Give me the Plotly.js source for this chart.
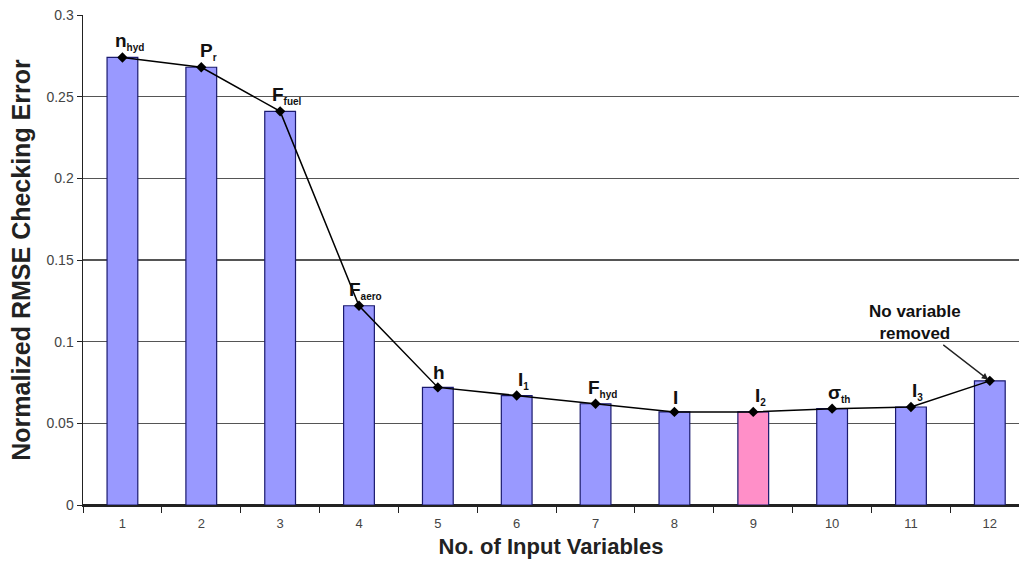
<!DOCTYPE html>
<html><head><meta charset="utf-8">
<script src="https://cdn.plot.ly/plotly-3.0.1.min.js"></script>
<style>html,body{margin:0;padding:0;background:#fff}</style>
</head><body><div id="chart" style="width:1019px;height:569px"></div>
<script>
const categories = ["1","2","3","4","5","6","7","8","9","10","11","12"];
const rmseValues = [0.274,0.268,0.241,0.122,0.072,0.067,0.062,0.057,0.057,0.059,0.060,0.076];
const labelMain = ["n","P","F","F","h","I","F","I","I","σ","I",""];
const labelSub = ["hyd","r","fuel","aero","","1","hyd","","2","th","3",""];
const highlightCategory = "9";
const noteText = "No variable<br>removed";

const FONT = "Arial, Liberation Sans, sans-serif";
const barColors = categories.map(c => c === highlightCategory ? "#ff8fc8" : "#9999ff");

const bars = {
  type: "bar", x: categories, y: rmseValues, width: 0.39,
  marker: {color: barColors, line: {color: "#1a1a6e", width: 1.2}},
  hoverinfo: "skip", showlegend: false
};
const line = {
  type: "scatter", mode: "lines+markers", x: categories, y: rmseValues,
  line: {color: "#000", width: 1.5},
  marker: {symbol: "diamond", size: 8, color: "#000"},
  showlegend: false
};

const annotations = [];
categories.forEach((c, i) => {
  if (!labelMain[i]) return;
  const sub = labelSub[i] ? '<sub><span style="font-size:10px">' + labelSub[i] + '</span></sub>' : '';
  annotations.push({
    x: i, y: rmseValues[i], xref: "x", yref: "y",
    text: labelMain[i] + sub, showarrow: false, yanchor: "bottom", yshift: 2, xshift: labelSub[i] ? 7 : 1,
    font: {family: FONT, size: 19, color: "#111", weight: "bold"}
  });
});
annotations.push({
  x: 11, y: rmseValues[11], xref: "x", yref: "y",
  text: noteText, showarrow: true, arrowhead: 2, arrowsize: 1, arrowwidth: 1.3, arrowcolor: "#222",
  ax: -75, ay: -58, standoff: 2,
  font: {family: FONT, size: 17, color: "#111", weight: "bold"}
});

const layout = {
  width: 1019, height: 569,
  margin: {l: 83, r: 0, t: 15, b: 64},
  paper_bgcolor: "#fff", plot_bgcolor: "#fff",
  xaxis: {
    type: "category", tickson: "boundaries", ticks: "outside", ticklen: 6, tickcolor: "#222",
    range: [-0.5, 11.37], ticklabelstandoff: 6,
    showgrid: false, showline: true, linecolor: "#222", linewidth: 1.5,
    tickfont: {family: FONT, size: 13, color: "#444"},
    title: {text: "No. of Input Variables", standoff: 8,
      font: {family: FONT, size: 22, color: "#222", weight: "bold"}}
  },
  yaxis: {
    range: [0, 0.3], dtick: 0.05, ticks: "outside", ticklen: 5, tickcolor: "#222",
    showgrid: true, gridcolor: "#555", gridwidth: 1.5, zeroline: true, zerolinecolor: "#222", zerolinewidth: 1.5,
    showline: true, linecolor: "#222", linewidth: 1.5,
    tickfont: {family: FONT, size: 14, color: "#444"},
    title: {text: "Normalized RMSE Checking Error", standoff: 8,
      font: {family: FONT, size: 25, color: "#222", weight: "bold"}}
  },
  annotations: annotations
};

Plotly.newPlot("chart", [bars, line], layout, {displayModeBar: false, staticPlot: true});
</script></body></html>
